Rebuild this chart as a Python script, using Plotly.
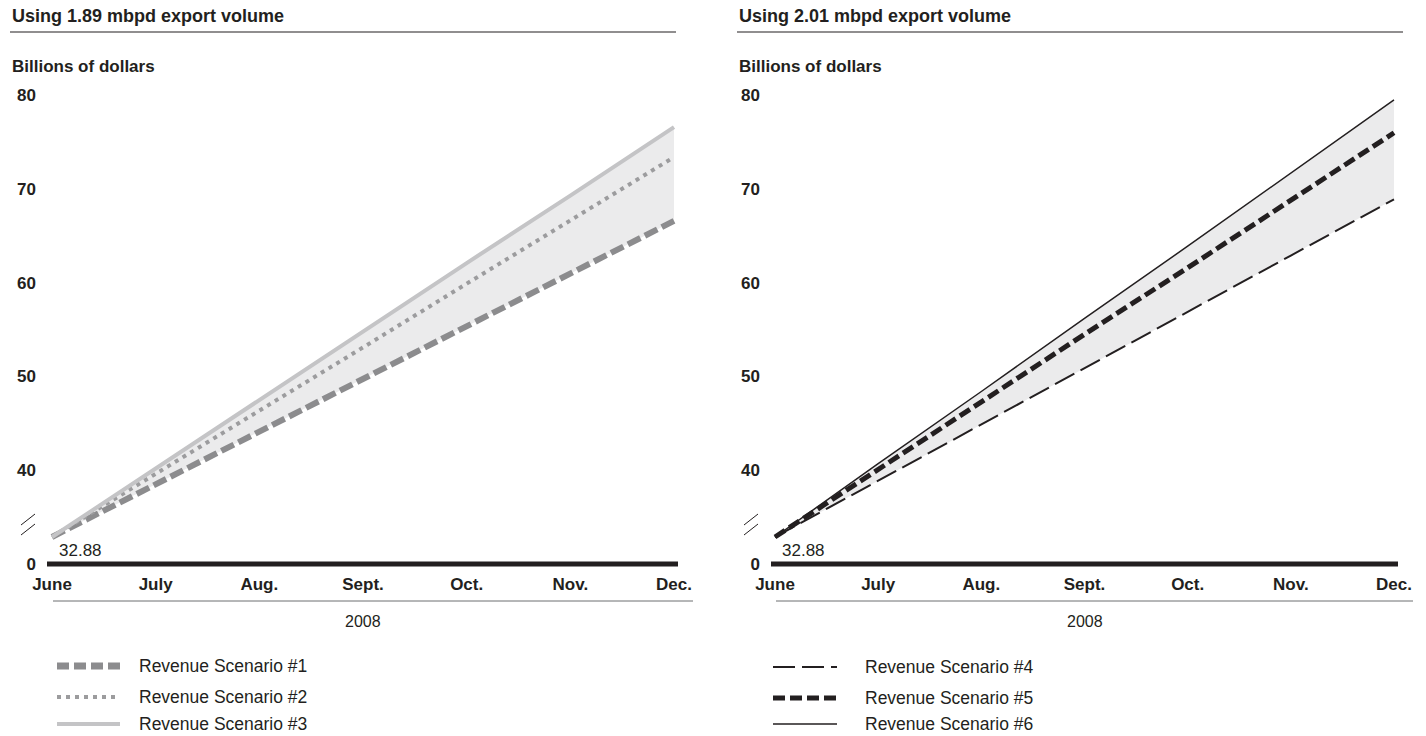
import plotly.graph_objects as go

months = ["June", "July", "Aug.", "Sept.", "Oct.", "Nov.", "Dec."]
year_label = "2008"
start_value = 32.88

# Panel 1: 1.89 mbpd export volume
scenario1 = [32.88, 38.5, 44.1, 49.7, 55.3, 61.0, 66.6]
scenario2 = [32.88, 39.6, 46.3, 53.1, 59.9, 66.6, 73.4]
scenario3 = [32.88, 40.2, 47.5, 54.8, 62.1, 69.3, 76.6]
# Panel 2: 2.01 mbpd export volume
scenario4 = [32.88, 38.9, 44.9, 50.9, 56.9, 62.9, 68.9]
scenario5 = [32.88, 40.1, 47.3, 54.5, 61.6, 68.8, 76.0]
scenario6 = [32.88, 40.7, 48.4, 56.2, 63.9, 71.7, 79.5]

ytick_vals = [30, 40, 50, 60, 70, 80]
ytick_text = ["0", "40", "50", "60", "70", "80"]

titles = ["Using 1.89 mbpd export volume", "Using 2.01 mbpd export volume"]
names_left = ["Revenue Scenario #1", "Revenue Scenario #2", "Revenue Scenario #3"]
names_right = ["Revenue Scenario #4", "Revenue Scenario #5", "Revenue Scenario #6"]

W, H = 1426, 736
FONT = "Liberation Sans, Arial, Helvetica, sans-serif"
TXT = "#231f20"
FILL = "#ebebec"

def px(x):
    return x / W

def py(y):
    return 1 - y / H

xs = list(range(len(months)))

fig = go.Figure()

styles_left = [
    dict(color="#8c8c8e", width=6, dash="14px,5px"),
    dict(color="#9c9c9e", width=4, dash="4px,5px"),
    dict(color="#c4c4c6", width=4, dash="solid"),
]
styles_right = [
    dict(color="#231f20", width=2, dash="22px,7px"),
    dict(color="#231f20", width=5, dash="12px,5px"),
    dict(color="#231f20", width=1.5, dash="solid"),
]

panels = [
    ("x", "y", [scenario1, scenario2, scenario3], names_left, styles_left),
    ("x2", "y2", [scenario4, scenario5, scenario6], names_right, styles_right),
]

for xa, ya, series, names, styles in panels:
    # shaded band between lowest and highest scenario
    fig.add_trace(go.Scatter(x=xs, y=series[0], mode="lines", line=dict(width=0),
                             xaxis=xa, yaxis=ya, showlegend=False, hoverinfo="skip"))
    fig.add_trace(go.Scatter(x=xs, y=series[2], mode="lines", line=dict(width=0),
                             fill="tonexty", fillcolor=FILL,
                             xaxis=xa, yaxis=ya, showlegend=False, hoverinfo="skip"))
    for s, n, st in zip(series, names, styles):
        fig.add_trace(go.Scatter(x=xs, y=s, mode="lines", name=n, line=st,
                                 xaxis=xa, yaxis=ya, showlegend=False))

# axis geometry (page pixels)
y_top_px, y_bot_px = 85, 568
px_per_unit = 9.375
zero_px = 564
y_range = [30 - (y_bot_px - zero_px) / px_per_unit, 30 + (zero_px - y_top_px) / px_per_unit]

def xrange_for(left, june, dec, right):
    u = (dec - june) / 6
    return [-(june - left) / u, 6 + (right - dec) / u]

left_geom = (47, 52, 674, 678)
right_geom = (771, 775, 1394, 1398)

common_y = dict(range=y_range, domain=[py(y_bot_px), py(y_top_px)], tickmode="array",
                tickvals=ytick_vals, ticktext=ytick_text, showgrid=False, zeroline=False,
                showline=False, ticks="", ticklabelstandoff=10, automargin=False,
                tickfont=dict(family=FONT, size=17, color=TXT, weight="bold"))
common_x = dict(tickmode="array", tickvals=xs, ticktext=months, showgrid=False,
                zeroline=False, showline=False, ticks="", ticklabelstandoff=4,
                automargin=False,
                tickfont=dict(family=FONT, size=17, color=TXT, weight="bold"))

fig.update_layout(
    xaxis=dict(common_x, domain=[px(left_geom[0]), px(left_geom[3])],
               range=xrange_for(*left_geom), anchor="y"),
    yaxis=dict(common_y, anchor="x"),
    xaxis2=dict(common_x, domain=[px(right_geom[0]), px(right_geom[3])],
                range=xrange_for(*right_geom), anchor="y2"),
    yaxis2=dict(common_y, anchor="x2"),
)

shapes = []
annotations = []
for i, (xa, ya, geom, offset) in enumerate([("x", "y", left_geom, 0), ("x2", "y2", right_geom, 727)]):
    xd = xa + " domain"
    # zero baseline
    shapes.append(dict(type="line", xref=xd, yref=ya, x0=0, x1=1, y0=30, y1=30,
                       line=dict(color=TXT, width=5), layer="above"))
    # title underline
    shapes.append(dict(type="line", xref="paper", yref="paper", x0=px(10 + offset),
                       x1=px(676 + offset), y0=py(32), y1=py(32),
                       line=dict(color=TXT, width=1.2)))
    # axis break marks
    for yb in (525, 535):
        shapes.append(dict(type="line", xref="paper", yref="paper",
                           x0=px(21 + offset - (4 if i else 0)), y0=py(yb),
                           x1=px(35 + offset - (4 if i else 0)), y1=py(yb - 11),
                           line=dict(color=TXT, width=1)))
    # thin line under month labels
    shapes.append(dict(type="line", xref="paper", yref="paper", x0=px(geom[1] + 1),
                       x1=px(geom[2] + 19), y0=py(601), y1=py(601),
                       line=dict(color="#6d6e71", width=1)))
    annotations.append(dict(text=titles[i], xref="paper", yref="paper", x=px(10 + offset),
                            y=py(16), xanchor="left", yanchor="middle", showarrow=False,
                            font=dict(family=FONT, size=18, color=TXT, weight="bold")))
    annotations.append(dict(text="Billions of dollars", xref="paper", yref="paper",
                            x=px(10 + offset), y=py(66), xanchor="left", yanchor="middle",
                            showarrow=False,
                            font=dict(family=FONT, size=17, color=TXT, weight="bold")))
    annotations.append(dict(text=f"{start_value:.2f}", xref=xa, yref=ya, x=0, y=start_value,
                            xanchor="left", yanchor="middle", xshift=5, yshift=-13,
                            showarrow=False, font=dict(family=FONT, size=17, color=TXT)))
    annotations.append(dict(text=year_label, xref=xa, yref="paper", x=3, y=py(621),
                            xanchor="center", yanchor="middle", showarrow=False,
                            font=dict(family=FONT, size=16, color=TXT)))

# legends
leg_left = dict(x0=57, x1=120, tx=137, ys=[666, 697, 724])
leg_right = dict(x0=773, x1=837, tx=863, ys=[667, 698, 724])
for leg, names, styles in [(leg_left, names_left, styles_left), (leg_right, names_right, styles_right)]:
    for n, st, y in zip(names, styles, leg["ys"]):
        lst = dict(st)
        if lst["dash"] == "14px,5px":
            lst["dash"] = "12px,5px"
            lst["width"] = 7
        shapes.append(dict(type="line", xref="paper", yref="paper", x0=px(leg["x0"]),
                           x1=px(leg["x1"]), y0=py(y), y1=py(y), line=lst))
        annotations.append(dict(text=n, xref="paper", yref="paper", x=px(leg["tx"]), y=py(y),
                                xanchor="left", yanchor="middle", showarrow=False,
                                font=dict(family=FONT, size=17.5, color=TXT)))

fig.update_layout(
    width=W, height=H, margin=dict(l=0, r=0, t=0, b=0, autoexpand=False),
    paper_bgcolor="white", plot_bgcolor="white",
    shapes=shapes, annotations=annotations, showlegend=False,
    font=dict(family=FONT, color=TXT),
)

fig.write_html("out.html", config={"displayModeBar": False},
               post_script="document.body.style.margin='0';document.body.style.overflow='hidden';")
